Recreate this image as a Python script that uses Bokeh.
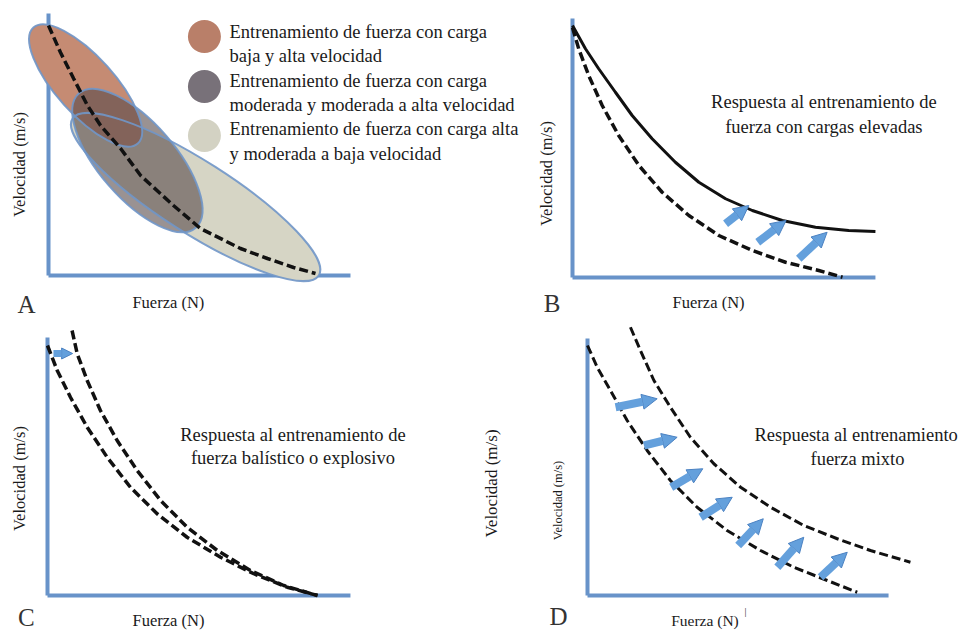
import math
from bokeh.plotting import figure
from bokeh.models import Range1d, ColumnDataSource, Arrow, NormalHead, Label
from bokeh.layouts import column, row
from bokeh.embed import file_html
from bokeh.resources import INLINE

# ---------------------------------------------------------------------------
# DATA  (force in % of maximal force F0, velocity in % of maximal velocity V0)
# ---------------------------------------------------------------------------
# Panel A - baseline force-velocity curve
a_force = [0, 4.5, 9.4, 14.6, 19.5, 27.0, 34.5, 46.8, 56.9, 71.9, 82.0, 91.8, 100]
a_velocity = [100, 89.2, 78.8, 68.0, 60.0, 50.8, 40.0, 28.0, 18.8, 10.8, 6.8, 3.2, 0.8]

# Panel A - training zones (low / moderate / high load)
zone_force = [13.9, 33.3, 55.1]
zone_velocity = [76.0, 46.0, 31.4]
zone_text = [
    ["Entrenamiento de fuerza con carga", "baja y alta velocidad"],
    ["Entrenamiento de fuerza con carga", "moderada y moderada a alta velocidad"],
    ["Entrenamiento de fuerza con carga alta", "y moderada a baja velocidad"],
]

# Panel B - heavy-load training
b_pre_force = [0, 2.3, 6.0, 11.0, 17.1, 24.6, 33.2, 43.1, 54.2, 66.6, 78.9, 91.2, 100]
b_pre_velocity = [100, 91.5, 80.8, 68.8, 56.8, 44.8, 34.1, 24.8, 16.8, 10.8, 6.1, 2.8, 0.1]
b_post_force = [0, 4.8, 9.7, 15.9, 22.1, 29.5, 38.1, 46.8, 56.7, 66.6, 77.7, 90.0, 102.3, 112.2]
b_post_velocity = [100.8, 91.5, 83.5, 74.1, 64.8, 55.5, 46.1, 38.1, 31.5, 26.8, 22.8, 20.1, 18.8, 18.4]
b_shift_from = [(56.7, 21.5), (68.6, 14.1), (83.8, 7.5)]
b_shift_to = [(65.3, 28.8), (79.1, 22.8), (94.3, 18.1)]
b_text = ["Respuesta al entrenamiento de", "fuerza con cargas elevadas"]

# Panel C - ballistic / explosive training
c_pre_force = [0, 3.6, 8.5, 14.7, 22.1, 30.7, 40.6, 51.7, 64.1, 76.4, 88.8, 100]
c_pre_velocity = [100, 90.0, 79.3, 67.3, 55.3, 43.3, 32.7, 23.3, 15.3, 8.7, 3.3, 0]
c_post_force = [9.1, 11.0, 14.7, 19.6, 25.8, 33.2, 41.9, 51.7, 62.9, 75.2, 87.5, 100]
c_post_velocity = [106.0, 96.7, 86.0, 74.0, 62.0, 50.0, 38.0, 27.3, 18.0, 10.0, 4.0, 0]
c_shift_from = [(2.2, 96.8)]
c_shift_to = [(9.3, 96.8)]
c_text = ["Respuesta al entrenamiento de", "fuerza balístico o explosivo"]

# Panel D - mixed training
d_pre_force = [0, 3.6, 8.5, 14.7, 22.1, 30.7, 40.6, 51.7, 64.1, 76.4, 88.8, 99.9]
d_pre_velocity = [100, 91.3, 82.0, 70.0, 58.0, 46.0, 35.3, 26.0, 18.0, 11.3, 6.0, 1.3]
d_post_force = [15.9, 19.6, 24.6, 30.7, 38.1, 46.8, 56.7, 67.8, 80.1, 92.5, 104.8, 119.6]
d_post_velocity = [107.3, 98.0, 86.0, 75.3, 63.3, 52.7, 43.3, 35.3, 28.0, 22.7, 18.0, 13.3]
d_shift_from = [(10.4, 75.3), (20.9, 60.0), (31.0, 43.3), (41.9, 31.3), (55.8, 20.0), (70.3, 11.3), (86.3, 7.3)]
d_shift_to = [(25.8, 78.7), (33.2, 63.3), (42.7, 50.7), (53.6, 39.3), (65.1, 30.7), (80.1, 23.3), (96.2, 17.3)]
d_text = ["Respuesta al entrenamiento", "fuerza mixto"]

x_label = "Fuerza (N)"
y_label = "Velocidad (m/s)"

# ---------------------------------------------------------------------------
# LAYOUT / STYLE
# ---------------------------------------------------------------------------
SERIF = "Liberation Serif"
AXIS_BLUE = "#6893c9"
ARROW_BLUE = "#64a0dc"
ARROW_EDGE = "#4c82c2"

# page-pixel geometry of each panel: frame box, axis origin, px per unit
PANELS = {
    "A": dict(left=0, top=0, width=538, height=318, ox=48, oy=275, sx=2.67, sy=2.5,
              xaxis=113.1, yaxis=104.8),
    "B": dict(left=538, top=0, width=422, height=318, ox=572, oy=277, sx=2.7, sy=2.5,
              xaxis=112.2, yaxis=103.6),
    "C": dict(left=0, top=318, width=481, height=312, ox=47, oy=595, sx=2.7, sy=2.5,
              xaxis=112.2, yaxis=103.2),
    "D": dict(left=481, top=318, width=479, height=312, ox=587, oy=595, sx=2.7, sy=2.5,
              xaxis=111.5, yaxis=102.8),
}


def make_panel(key):
    g = PANELS[key]
    x0 = (g["left"] - g["ox"]) / g["sx"]
    x1 = (g["left"] + g["width"] - g["ox"]) / g["sx"]
    y0 = (g["oy"] - g["top"] - g["height"]) / g["sy"]
    y1 = (g["oy"] - g["top"]) / g["sy"]
    p = figure(width=g["width"], height=g["height"],
               x_range=Range1d(x0, x1), y_range=Range1d(y0, y1),
               x_axis_type=None, y_axis_type=None,
               output_backend="svg", toolbar_location=None,
               min_border=0, outline_line_color=None)
    p.grid.visible = False
    p.background_fill_color = "white"
    p.border_fill_color = "white"
    # blue axes
    p.segment(x0=[0, 0], y0=[0, 0], x1=[0, g["xaxis"]], y1=[g["yaxis"], 0],
              line_color=AXIS_BLUE, line_width=4)
    return p


def label(p, x, y, text, size, align="center", baseline="middle", angle=0.0, color="#1a1a1a"):
    p.add_layout(Label(x=x, y=y, text=text, text_font=SERIF, text_font_size=size,
                       text_align=align, text_baseline=baseline, angle=angle,
                       text_color=color))


def arrows(p, starts, ends, width, head):
    src = ColumnDataSource(dict(x0=[s[0] for s in starts], y0=[s[1] for s in starts],
                                x1=[e[0] for e in ends], y1=[e[1] for e in ends]))
    p.add_layout(Arrow(x_start="x0", y_start="y0", x_end="x1", y_end="y1", source=src,
                       line_color=ARROW_BLUE, line_width=width,
                       end=NormalHead(size=head, fill_color=ARROW_BLUE,
                                      line_color=ARROW_EDGE, line_width=1)))


DASH = "9 4"
BODY = "18.5px"
AXLAB = "16.5px"
LETTER = "25px"

# ----------------------------- Panel A ------------------------------------
pA = make_panel("A")
zone_major = [156, 178, 292]
zone_minor = [58, 76, 72]
zone_tilt = [48, 49, 32.5]
zone_fill = ["#c58b73", "#57494a", "#d6d5c5"]
zone_alpha = [1.0, 0.6, 1.0]
zone_legend = ["#b97f69", "#787179", "#d3d2c3"]
for i in [2, 0, 1]:
    pA.ellipse(x=[zone_force[i]], y=[zone_velocity[i]], width=zone_major[i], height=zone_minor[i],
               width_units="screen", height_units="screen",
               angle=-math.radians(zone_tilt[i]),
               fill_color=zone_fill[i], fill_alpha=zone_alpha[i], line_color=None)
for i in [2, 0, 1]:
    pA.ellipse(x=[zone_force[i]], y=[zone_velocity[i]], width=zone_major[i], height=zone_minor[i],
               width_units="screen", height_units="screen",
               angle=-math.radians(zone_tilt[i]),
               fill_color=None, line_color="#7096c8", line_width=2, line_alpha=0.9)
pA.line(a_force, a_velocity, line_color="#111111", line_width=3.5, line_dash=DASH)

legend_x = 58.4
legend_y = [95.6, 75.6, 56.0]
pA.scatter(x=[legend_x] * 3, y=legend_y, size=33, marker="circle",
           fill_color=zone_legend, line_color=None)
text_x = 67.8
baselines = [97.3, 88.0, 78.0, 68.4, 58.5, 48.8]
for i, lines in enumerate(zone_text):
    for j, t in enumerate(lines):
        label(pA, text_x, baselines[2 * i + j], t, BODY, align="left", baseline="alphabetic")
label(pA, -10.9, 44.4, y_label, AXLAB, angle=math.pi / 2)
label(pA, 44.9, -10.6, x_label, AXLAB)
label(pA, -8.2, -11.6, "A", LETTER, baseline="alphabetic", color="#333333")

# ----------------------------- Panel B ------------------------------------
pB = make_panel("B")
pB.line(b_post_force, b_post_velocity, line_color="#111111", line_width=3)
pB.line(b_pre_force, b_pre_velocity, line_color="#111111", line_width=3.5, line_dash=DASH)
arrows(pB, b_shift_from, b_shift_to, 8, 15)
label(pB, 93.1, 70.1, b_text[0], BODY, baseline="alphabetic")
label(pB, 93.1, 60.4, b_text[1], BODY, baseline="alphabetic")
label(pB, -9.6, 41.6, y_label, AXLAB, angle=math.pi / 2)
label(pB, 50.4, -10.0, x_label, AXLAB)
label(pB, -7.6, -10.4, "B", LETTER, baseline="alphabetic", color="#333333")

# ----------------------------- Panel C ------------------------------------
pC = make_panel("C")
pC.line(c_pre_force, c_pre_velocity, line_color="#111111", line_width=3.5, line_dash=DASH)
pC.line(c_post_force, c_post_velocity, line_color="#111111", line_width=3.5, line_dash=DASH)
arrows(pC, c_shift_from, c_shift_to, 7, 11)
label(pC, 90.9, 64.4, c_text[0], BODY, baseline="alphabetic")
label(pC, 90.9, 55.1, c_text[1], BODY, baseline="alphabetic")
label(pC, -10.4, 46.8, y_label, AXLAB, angle=math.pi / 2)
label(pC, 44.8, -9.8, x_label, AXLAB)
label(pC, -7.8, -8.6, "C", LETTER, baseline="alphabetic", color="#333333")

# ----------------------------- Panel D ------------------------------------
pD = make_panel("D")
pD.line(d_pre_force, d_pre_velocity, line_color="#111111", line_width=3, line_dash=DASH)
pD.line(d_post_force, d_post_velocity, line_color="#111111", line_width=3, line_dash=DASH)
arrows(pD, d_shift_from, d_shift_to, 8, 15)
label(pD, 99.5, 64.4, d_text[0], BODY, baseline="alphabetic")
label(pD, 100.0, 54.7, d_text[1], BODY, baseline="alphabetic")
label(pD, -35.4, 44.8, y_label, "17px", angle=math.pi / 2)
label(pD, -10.9, 38.0, y_label, "12.5px", angle=math.pi / 2)
label(pD, 43.5, -9.8, x_label, "15.5px")
label(pD, 58.5, -6.4, "|", "10px")
label(pD, -10.7, -8.2, "D", LETTER, baseline="alphabetic", color="#333333")

layout = column(row(pA, pB, spacing=0), row(pC, pD, spacing=0), spacing=0)
open("out.html", "w").write(file_html(layout, INLINE))
